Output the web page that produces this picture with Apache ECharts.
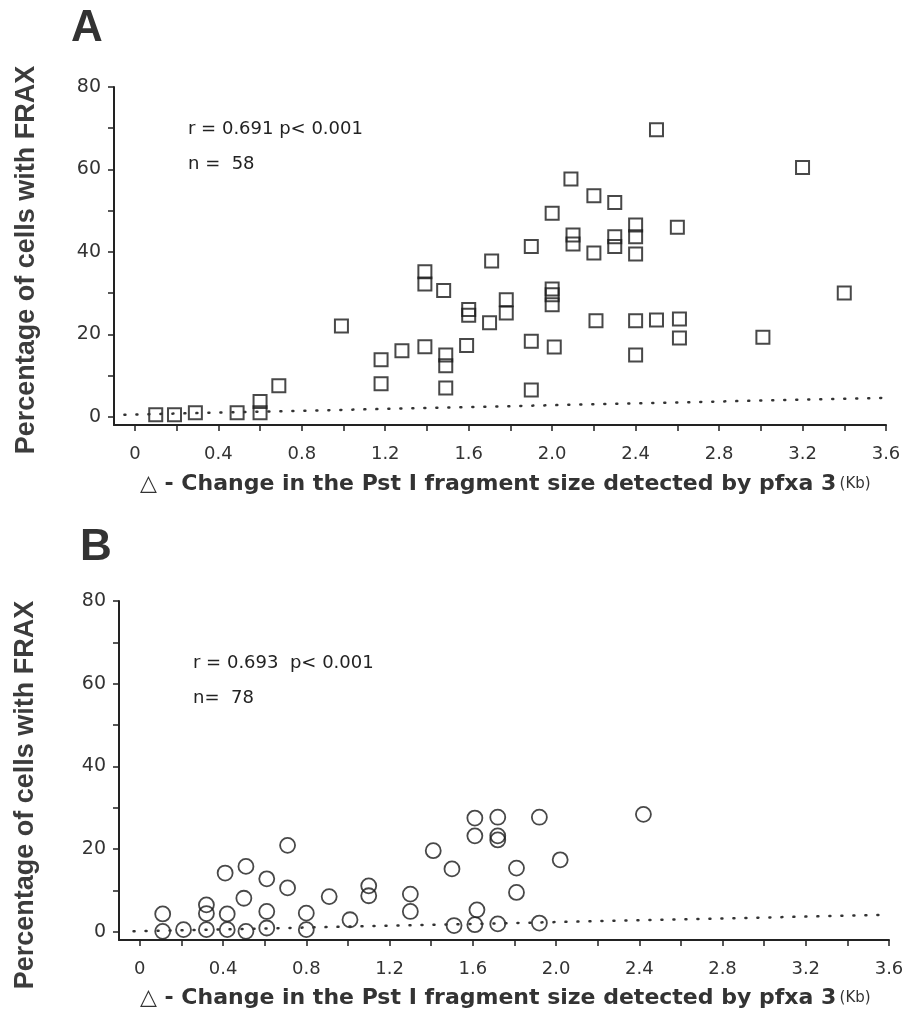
<!DOCTYPE html>
<html>
<head>
<meta charset="utf-8">
<title>FRAX expression vs Pst I fragment size change</title>
<script src="https://cdn.jsdelivr.net/npm/echarts@6/dist/echarts.min.js"></script>
<style>
  html, body { margin: 0; padding: 0; background: #ffffff; }
  #chart { width: 915px; height: 1029px; }
</style>
</head>
<body>
<div id="chart"></div>
<script>
// Panel A: change in fragment size (Kb) and % cells with FRAX (squares)
const sizeChangeA = [
  0.10, 0.19, 0.29, 0.49, 0.60, 0.60, 0.69, 0.99, 1.18, 1.18,
  1.28, 1.39, 1.39, 1.39, 1.48, 1.49, 1.49, 1.49, 1.60, 1.60,
  1.59, 1.70, 1.71, 1.78, 1.78, 1.90, 1.90, 1.90, 2.00, 2.00,
  2.00, 2.00, 2.01, 2.09, 2.10, 2.10, 2.20, 2.20, 2.21, 2.30,
  2.30, 2.30, 2.40, 2.40, 2.40, 2.40, 2.40, 2.50, 2.50, 2.60,
  2.61, 2.61, 3.01, 3.20, 3.40
];
const fraxA = [
  0.5, 0.5, 1.0, 1.0, 1.0, 3.7, 7.5, 22.0, 13.8, 8.0,
  16.0, 17.0, 35.2, 32.2, 30.6, 15.0, 12.4, 7.0, 26.0, 24.6,
  17.3, 22.8, 37.8, 28.4, 25.2, 41.3, 18.3, 6.5, 49.4, 31.0,
  29.6, 27.2, 16.9, 57.7, 44.1, 41.9, 53.6, 39.7, 23.3, 52.0,
  43.7, 41.3, 46.5, 43.7, 39.5, 23.3, 15.0, 69.6, 23.5, 46.0,
  23.7, 19.1, 19.3, 60.5, 30.0
];

// Panel B: change in fragment size (Kb) and % cells with FRAX (circles)
const sizeChangeB = [
  0.11, 0.11, 0.21, 0.32, 0.32, 0.32, 0.41, 0.42, 0.42, 0.51,
  0.50, 0.51, 0.61, 0.61, 0.61, 0.71, 0.71, 0.80, 0.80, 0.91,
  1.01, 1.10, 1.10, 1.30, 1.30, 1.41, 1.50, 1.51, 1.61, 1.61,
  1.62, 1.61, 1.72, 1.72, 1.72, 1.72, 1.81, 1.81, 1.92, 1.92,
  2.02, 2.42
];
const fraxB = [
  4.3, 0.1, 0.5, 6.5, 4.4, 0.5, 14.2, 4.3, 0.5, 15.8,
  8.1, 0.1, 12.8, 4.9, 0.9, 20.9, 10.6, 4.5, 0.5, 8.5,
  2.9, 11.1, 8.7, 9.1, 4.9, 19.6, 15.2, 1.5, 27.5, 23.2,
  5.3, 1.7, 27.7, 23.2, 22.2, 1.9, 15.4, 9.5, 27.7, 2.1,
  17.4, 28.4
];

// Dotted baseline drawn across each panel (start and end points)
const baselineA = [[-0.05, 0.5], [3.6, 4.6]];
const baselineB = [[-0.03, 0.1], [3.6, 4.1]];

// Axis tick positions and labels
const xTickValues = [0, 0.2, 0.4, 0.6, 0.8, 1.0, 1.2, 1.4, 1.6, 1.8, 2.0, 2.2, 2.4, 2.6, 2.8, 3.0, 3.2, 3.4, 3.6];
const xLabelValues = [0, 0.4, 0.8, 1.2, 1.6, 2.0, 2.4, 2.8, 3.2, 3.6];
const yTickValues = [0, 10, 20, 30, 40, 50, 60, 70, 80];
const yLabelValues = [0, 20, 40, 60, 80];

const statsA = ['r = 0.691 p< 0.001', 'n =  58'];
const statsB = ['r = 0.693  p< 0.001', 'n=  78'];
const yTitle = 'Percentage of cells with FRAX';
const xTitle = '\u25B3 - Change in the Pst I fragment size detected by pfxa 3';
const xUnit = '(Kb)';

const ink = '#222222';
const labelFont = '"DejaVu Sans", Lato, sans-serif';

function pairs(xs, ys) {
  return xs.map(function (x, i) { return [x, ys[i]]; });
}

function makeXAxis(gridIndex) {
  return {
    gridIndex: gridIndex,
    type: 'value',
    min: -0.1,
    max: 3.6,
    splitLine: { show: false },
    axisLine: { show: true, onZero: false, lineStyle: { color: ink, width: 2 } },
    axisTick: { show: true, length: 6, customValues: xTickValues, lineStyle: { color: ink, width: 1.5 } },
    axisLabel: {
      customValues: xLabelValues,
      margin: 20,
      fontSize: 18,
      color: '#333',
      fontFamily: labelFont,
      formatter: function (v) { return v === 0 ? '0' : v.toFixed(1); }
    }
  };
}

function makeYAxis(gridIndex) {
  return {
    gridIndex: gridIndex,
    type: 'value',
    min: -2,
    max: 80,
    splitLine: { show: false },
    axisLine: { show: true, onZero: false, lineStyle: { color: ink, width: 2 } },
    axisTick: { show: true, length: 6, customValues: yTickValues, lineStyle: { color: ink, width: 1.5 } },
    axisLabel: {
      customValues: yLabelValues,
      margin: 13,
      fontSize: 19,
      color: '#333',
      fontFamily: labelFont
    }
  };
}

function statText(lines, x, y) {
  return lines.map(function (t, i) {
    return {
      type: 'text', x: x, y: y + i * 35,
      style: { text: t, fontSize: 18, fontFamily: labelFont, fill: '#222', textVerticalAlign: 'middle' }
    };
  });
}

function yTitleText(x, y) {
  return {
    type: 'text', x: x, y: y, rotation: Math.PI / 2,
    style: {
      text: yTitle, fontSize: 27, fontWeight: 'bold', fill: '#3c3c3c',
      fontFamily: '"Liberation Sans", Arial, sans-serif',
      textAlign: 'center', textVerticalAlign: 'middle'
    }
  };
}

function xTitleText(x, y) {
  return {
    type: 'text', x: x, y: y,
    style: {
      text: '{main|' + xTitle + '} {unit|' + xUnit + '}',
      textVerticalAlign: 'middle',
      rich: {
        main: { fontSize: 22, fontWeight: 'bold', fontFamily: '"DejaVu Sans", sans-serif', fill: '#333' },
        unit: { fontSize: 15, fontFamily: '"DejaVu Sans", sans-serif', fill: '#333' }
      }
    }
  };
}

function panelLetter(t, x, y) {
  return {
    type: 'text', x: x, y: y,
    style: {
      text: t, fontSize: 44, fontWeight: 'bold', fill: '#333',
      fontFamily: '"Liberation Sans", Arial, sans-serif', textVerticalAlign: 'middle'
    }
  };
}

const chart = echarts.init(document.getElementById('chart'), null, { renderer: 'canvas' });

chart.setOption({
  backgroundColor: '#ffffff',
  animation: false,
  grid: [
    { left: 114, top: 87, width: 772, height: 338 },
    { left: 119, top: 601, width: 770, height: 339 }
  ],
  xAxis: [makeXAxis(0), makeXAxis(1)],
  yAxis: [makeYAxis(0), makeYAxis(1)],
  series: [
    {
      type: 'line', xAxisIndex: 0, yAxisIndex: 0, data: baselineA,
      symbol: 'none', silent: true,
      lineStyle: { color: '#333', width: 2.5, type: [1, 11], cap: 'round' }
    },
    {
      type: 'line', xAxisIndex: 1, yAxisIndex: 1, data: baselineB,
      symbol: 'none', silent: true,
      lineStyle: { color: '#333', width: 2.5, type: [1, 11], cap: 'round' }
    },
    {
      type: 'scatter', xAxisIndex: 0, yAxisIndex: 0,
      data: pairs(sizeChangeA, fraxA),
      symbol: 'rect', symbolSize: 13,
      itemStyle: { color: 'rgba(255,255,255,0)', borderColor: '#1a1a1a', borderWidth: 2 }
    },
    {
      type: 'scatter', xAxisIndex: 1, yAxisIndex: 1,
      data: pairs(sizeChangeB, fraxB),
      symbol: 'circle', symbolSize: 15,
      itemStyle: { color: 'rgba(255,255,255,0)', borderColor: '#1a1a1a', borderWidth: 1.8 }
    }
  ],
  graphic: [
    panelLetter('A', 71, 29),
    panelLetter('B', 80, 548),
    yTitleText(27, 260),
    yTitleText(26, 795)
  ]
    .concat(statText(statsA, 188, 129))
    .concat(statText(statsB, 193, 663))
    .concat([xTitleText(140, 484), xTitleText(140, 998)])
});
</script>
</body>
</html>
